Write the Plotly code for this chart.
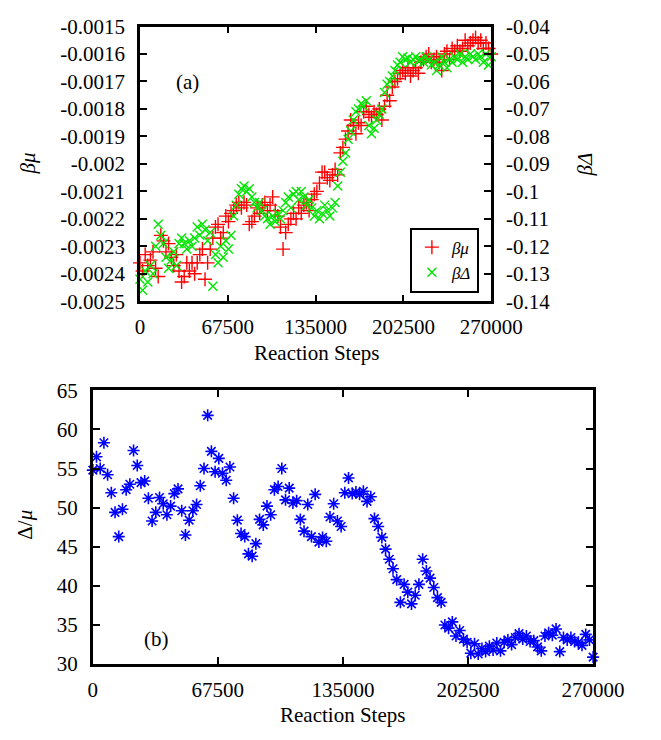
import plotly.graph_objects as go

# ---------------- data ----------------
STEPS = list(range(0, 270001, 2000))

beta_mu = [
    -0.00236, -0.00239, -0.00233, -0.00237, -0.00235, -0.00232, -0.00238, -0.00241, -0.00226, -0.00228,
    -0.00232, -0.00229, -0.00234, -0.00237, -0.00233, -0.00239, -0.00243, -0.00241, -0.00236, -0.00239,
    -0.00236, -0.00240, -0.00236, -0.00233, -0.00231, -0.00242, -0.00236, -0.00231, -0.00227, -0.00223,
    -0.00222, -0.00227, -0.00225, -0.00219, -0.00221, -0.00218, -0.00217, -0.00215, -0.00214, -0.00216,
    -0.00214, -0.00215, -0.00222, -0.00221, -0.00219, -0.00216, -0.00218, -0.00215, -0.00214, -0.00217,
    -0.00215, -0.00212, -0.00217, -0.00219, -0.00223, -0.00231, -0.00225, -0.00222, -0.00220, -0.00218,
    -0.00220, -0.00216, -0.00218, -0.00215, -0.00214, -0.00217, -0.00213, -0.00211, -0.00210, -0.00207,
    -0.00203, -0.00203, -0.00205, -0.00206, -0.00204, -0.00202, -0.00204, -0.00196, -0.00194, -0.00191,
    -0.00188, -0.00184, -0.00186, -0.00189, -0.00185, -0.00186, -0.00181, -0.00179, -0.00182, -0.00183,
    -0.00181, -0.00182, -0.00180, -0.00184, -0.00179, -0.00175, -0.00177, -0.00172, -0.00170, -0.00169,
    -0.00167, -0.00166, -0.00167, -0.00165, -0.00168, -0.00166, -0.00165, -0.00167, -0.00163, -0.00162,
    -0.00161, -0.00160, -0.00163, -0.00162, -0.00161, -0.00163, -0.00166, -0.00160, -0.00159, -0.00162,
    -0.00158, -0.00159, -0.00157, -0.00159, -0.00158, -0.00155, -0.00157, -0.00156, -0.00155, -0.00154,
    -0.00156, -0.00155, -0.00158, -0.00156, -0.00158, -0.00160,
]

beta_delta = [
    -0.132, -0.136, -0.129, -0.133, -0.127, -0.130, -0.120, -0.112, -0.116, -0.119,
    -0.124, -0.128, -0.125, -0.122, -0.127, -0.119, -0.117, -0.119, -0.121, -0.118,
    -0.120, -0.117, -0.113, -0.116, -0.112, -0.114, -0.118, -0.115, -0.1345, -0.123,
    -0.126, -0.120, -0.124, -0.118, -0.121, -0.116, -0.109, -0.105, -0.101, -0.099,
    -0.098, -0.100, -0.099, -0.102, -0.104, -0.106, -0.104, -0.107, -0.109, -0.110,
    -0.112, -0.109, -0.111, -0.108, -0.110, -0.107, -0.104, -0.102, -0.106, -0.101,
    -0.100, -0.103, -0.100, -0.102, -0.105, -0.103, -0.106, -0.109, -0.107, -0.110,
    -0.108, -0.105, -0.107, -0.109, -0.106, -0.104, -0.098, -0.093, -0.089, -0.086,
    -0.081, -0.078, -0.074, -0.071, -0.070, -0.068, -0.069, -0.067, -0.076, -0.079,
    -0.077, -0.074, -0.072, -0.070, -0.064, -0.061, -0.060, -0.058, -0.056, -0.054,
    -0.053, -0.051, -0.052, -0.0515, -0.053, -0.052, -0.051, -0.0525, -0.052, -0.053,
    -0.051, -0.052, -0.054, -0.053, -0.056, -0.054, -0.051, -0.053, -0.055, -0.052,
    -0.053, -0.051, -0.052, -0.050, -0.053, -0.051, -0.052, -0.050, -0.051, -0.052,
    -0.050, -0.051, -0.053, -0.050, -0.054, -0.051,
]

delta_over_mu = [
    54.8, 56.5, 55.0, 58.3, 54.2, 51.9, 49.4, 46.3, 49.8, 52.3,
    53.0, 57.3, 55.4, 53.2, 53.4, 51.2, 48.3, 49.4, 51.3, 50.5,
    49.1, 50.2, 51.8, 52.4, 49.6, 46.5, 48.4, 49.6, 50.4, 52.8,
    55.0, 61.8, 57.2, 54.6, 56.3, 54.4, 53.5, 55.2, 51.2, 48.4,
    46.7, 46.3, 44.1, 43.8, 45.4, 48.5, 47.8, 50.2, 49.1, 52.3,
    52.7, 55.0, 51.0, 52.5, 50.6, 50.9, 48.5, 47.0, 50.4, 46.3,
    51.7, 45.6, 46.2, 45.7, 48.8, 50.5, 48.3, 47.6, 51.9, 53.8,
    51.8, 52.0, 51.7, 52.1, 50.8, 51.4, 48.6, 47.6, 46.2, 44.7,
    43.4, 42.2, 40.8, 37.9, 40.2, 39.2, 37.7, 38.8, 40.2, 43.4,
    41.9, 41.0, 39.8, 38.5, 37.9, 35.0, 34.6, 35.4, 33.6, 34.3,
    33.2, 32.8, 31.4, 32.6, 31.3, 32.0, 31.6, 32.3, 31.8, 32.7,
    31.7, 32.8, 33.1, 32.5, 33.4, 33.9, 33.2, 33.6, 32.9, 33.0,
    32.2, 31.7, 33.6, 34.0, 33.7, 34.5, 31.6, 33.4, 33.1, 33.4,
    32.9, 32.8, 32.4, 33.8, 33.1, 30.9,
]

X_TICKS = [0, 67500, 135000, 202500, 270000]
X_TICK_TEXT = ["0", "67500", "135000", "202500", "270000"]
MU_TICKS = [-0.0025, -0.0024, -0.0023, -0.0022, -0.0021, -0.0020, -0.0019, -0.0018, -0.0017, -0.0016, -0.0015]
MU_TICK_TEXT = ["-0.0025", "-0.0024", "-0.0023", "-0.0022", "-0.0021", "-0.002",
                "-0.0019", "-0.0018", "-0.0017", "-0.0016", "-0.0015"]
DELTA_TICKS = [-0.14, -0.13, -0.12, -0.11, -0.10, -0.09, -0.08, -0.07, -0.06, -0.05, -0.04]
DELTA_TICK_TEXT = ["-0.14", "-0.13", "-0.12", "-0.11", "-0.1", "-0.09",
                   "-0.08", "-0.07", "-0.06", "-0.05", "-0.04"]
RATIO_TICKS = [30, 35, 40, 45, 50, 55, 60, 65]
RATIO_TICK_TEXT = ["30", "35", "40", "45", "50", "55", "60", "65"]

# ---------------- figure ----------------
W, H = 661, 740
FONT = "Liberation Serif"
FS = 21

def px_x(p):
    return p / W

def px_y(p):
    return 1 - p / H

fig = go.Figure()

fig.add_trace(go.Scatter(
    x=STEPS, y=beta_mu, mode="markers", name="<i>βμ</i>",
    xaxis="x", yaxis="y", cliponaxis=False,
    marker=dict(symbol="cross-thin-open", size=10, color="#ff0000",
                line=dict(color="#ff0000", width=1.4)),
))
fig.add_trace(go.Scatter(
    x=STEPS, y=beta_delta, mode="markers", name="<i>βΔ</i>",
    xaxis="x", yaxis="y2", cliponaxis=False,
    marker=dict(symbol="x-thin-open", size=9, color="#00e600",
                line=dict(color="#00e600", width=1.4)),
))
fig.add_trace(go.Scatter(
    x=STEPS, y=delta_over_mu, mode="markers", name="Δ/μ", showlegend=False,
    xaxis="x2", yaxis="y3", cliponaxis=False,
    marker=dict(symbol="asterisk-open", size=10, color="#0000ff",
                line=dict(color="#0000ff", width=1.6)),
))

axis_common = dict(
    showgrid=False, zeroline=False, showline=True, linecolor="black", linewidth=2.5,
    ticks="inside", ticklen=7, tickwidth=2, tickcolor="black",
    tickfont=dict(family=FONT, size=FS, color="black"),
)

fig.update_layout(
    width=W, height=H,
    margin=dict(l=0, r=0, t=0, b=0),
    paper_bgcolor="white", plot_bgcolor="white",
    font=dict(family=FONT, size=FS, color="black"),
    xaxis=dict(domain=[px_x(143), px_x(515)], range=[0, 270000], anchor="y",
               tickvals=X_TICKS, ticktext=X_TICK_TEXT, mirror="ticks",
               ticklabelstandoff=5, **axis_common),
    yaxis=dict(domain=[px_y(299), px_y(15)], range=[-0.0025, -0.0015], anchor="x",
               tickvals=MU_TICKS, ticktext=MU_TICK_TEXT, mirror=False,
               ticklabelstandoff=8, **axis_common),
    yaxis2=dict(domain=[px_y(299), px_y(15)], range=[-0.14, -0.04], anchor="x",
                overlaying="y", side="right",
                tickvals=DELTA_TICKS, ticktext=DELTA_TICK_TEXT,
                ticklabelstandoff=8, **axis_common),
    xaxis2=dict(domain=[px_x(93), px_x(623)], range=[0, 270000], anchor="y3",
                tickvals=X_TICKS, ticktext=X_TICK_TEXT, mirror="ticks",
                ticklabelstandoff=5, **axis_common),
    yaxis3=dict(domain=[px_y(674), px_y(391)], range=[30, 65], anchor="x2",
                tickvals=RATIO_TICKS, ticktext=RATIO_TICK_TEXT, mirror="ticks",
                ticklabelstandoff=8, **axis_common),
    legend=dict(x=px_x(502), y=px_y(290), xanchor="right", yanchor="bottom",
                bgcolor="white", bordercolor="black", borderwidth=2,
                font=dict(family=FONT, size=17, color="black"),
                tracegroupgap=0, itemwidth=30),
    showlegend=True,
)

annotations = [
    dict(text="(a)", x=px_x(193), y=px_y(72)),
    dict(text="(b)", x=px_x(160), y=px_y(648)),
    dict(text="<i>βμ</i>", x=px_x(24), y=px_y(157), textangle=-90),
    dict(text="<i>βΔ</i>", x=px_x(614), y=px_y(158), textangle=-90),
    dict(text="Reaction Steps", x=px_x(330), y=px_y(352)),
    dict(text="Reaction Steps", x=px_x(358), y=px_y(727)),
    dict(text="Δ/<i>μ</i>", x=px_x(21), y=px_y(530), textangle=-90),
]
for a in annotations:
    a.update(xref="paper", yref="paper", showarrow=False, xanchor="center", yanchor="middle",
             font=dict(family=FONT, size=FS, color="black"))
fig.update_layout(annotations=annotations)

fig.write_html("out.html")
